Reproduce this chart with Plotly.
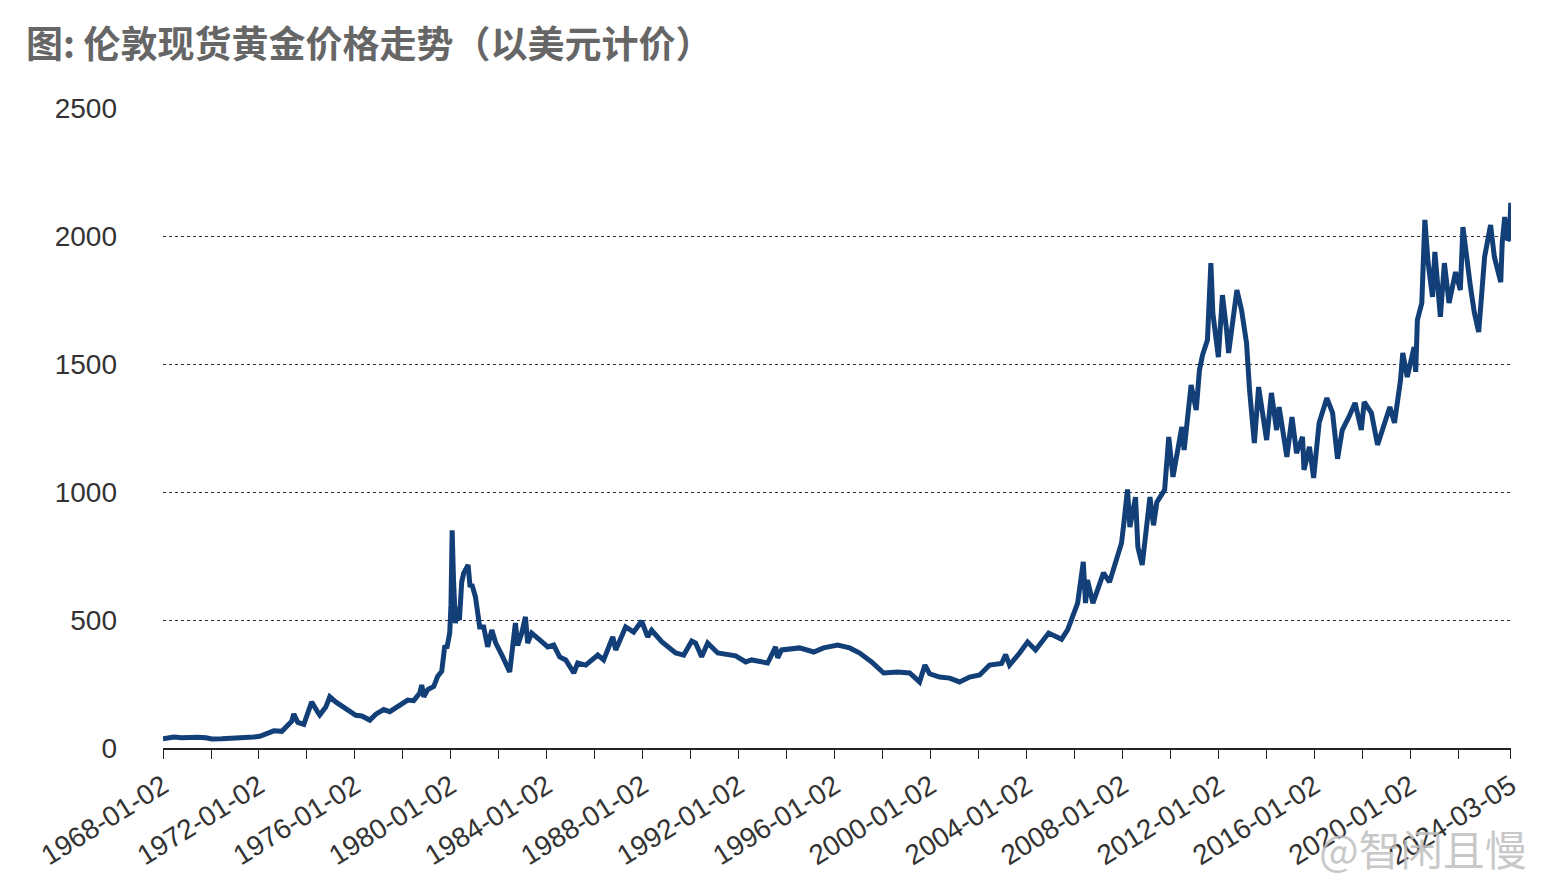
import plotly.graph_objects as go

# Data (London spot gold, USD)
dates = [
    "1968-01-02", "1968-03-15", "1968-06-15", "1968-10-15", "1969-03-15", "1969-06-15", "1969-10-15",
    "1970-01-15", "1970-06-15", "1970-11-15", "1971-03-15", "1971-07-15", "1971-10-15",
    "1972-01-15", "1972-05-15", "1972-08-15", "1972-12-15", "1973-03-15", "1973-05-15",
    "1973-06-15", "1973-08-15", "1973-11-15", "1974-01-15", "1974-03-15", "1974-06-15",
    "1974-07-15", "1974-10-15", "1974-12-15", "1975-03-15", "1975-06-15", "1975-09-15",
    "1976-01-15", "1976-04-15", "1976-08-15", "1976-11-15", "1977-03-15", "1977-06-15",
    "1977-10-15", "1978-01-15", "1978-03-15", "1978-06-15", "1978-09-15", "1978-10-15",
    "1978-11-15", "1979-01-15", "1979-04-15", "1979-06-15", "1979-08-15", "1979-10-01",
    "1979-11-01", "1979-12-15", "1980-01-03", "1980-01-21", "1980-01-28", "1980-02-10",
    "1980-03-10", "1980-04-10", "1980-05-10", "1980-06-15", "1980-07-15", "1980-09-20",
    "1980-10-20", "1980-11-15", "1981-01-10", "1981-02-10", "1981-03-15", "1981-05-15",
    "1981-07-15", "1981-09-15", "1981-11-15", "1982-03-01", "1982-06-15", "1982-09-10",
    "1982-10-15", "1982-12-15", "1983-02-10", "1983-03-15", "1983-05-15", "1983-09-15",
    "1984-01-15", "1984-04-15", "1984-07-15", "1984-10-15", "1985-02-15", "1985-04-15",
    "1985-08-15", "1986-02-15", "1986-05-15", "1986-10-01", "1986-11-15", "1987-04-15",
    "1987-08-15", "1987-12-15", "1988-03-15", "1988-05-15", "1988-10-15", "1989-05-15",
    "1989-09-15", "1990-01-15", "1990-03-15", "1990-06-15", "1990-09-15", "1991-02-15",
    "1991-07-15", "1991-11-15", "1992-04-15", "1992-07-15", "1993-03-15", "1993-07-15",
    "1993-08-15", "1993-10-15", "1994-07-15", "1995-02-15", "1995-07-15", "1996-02-15",
    "1996-08-15", "1997-01-15", "1997-07-15", "1998-01-15", "1998-08-15", "1999-02-15",
    "1999-07-15", "1999-10-05", "1999-12-15", "2000-05-15", "2000-10-15", "2001-03-15",
    "2001-08-15", "2002-01-15", "2002-06-15", "2002-12-15", "2003-02-15", "2003-04-15",
    "2003-09-15", "2004-01-15", "2004-05-15", "2004-12-01", "2005-06-15", "2005-09-15",
    "2005-12-10", "2006-02-15", "2006-05-12", "2006-06-15", "2006-07-15", "2006-10-05",
    "2007-01-15", "2007-03-15", "2007-06-15", "2007-10-01", "2007-12-15", "2008-01-20",
    "2008-03-15", "2008-04-20", "2008-07-15", "2008-08-20", "2008-10-25", "2008-12-15",
    "2009-02-20", "2009-04-15", "2009-06-05", "2009-10-01", "2009-12-03", "2010-02-05",
    "2010-06-20", "2010-07-25", "2010-11-08", "2011-01-25", "2011-03-15", "2011-05-01",
    "2011-07-15", "2011-09-05", "2011-10-05", "2011-12-28", "2012-02-28", "2012-05-01",
    "2012-06-01", "2012-10-05", "2012-12-15", "2013-03-01", "2013-04-16", "2013-06-28",
    "2013-09-01", "2014-01-01", "2014-03-15", "2014-06-01", "2014-07-10", "2014-11-05",
    "2015-01-22", "2015-04-01", "2015-07-01", "2015-07-24", "2015-10-15", "2015-12-17",
    "2016-03-10", "2016-07-06", "2016-10-01", "2016-12-15", "2017-02-25", "2017-06-06",
    "2017-09-08", "2017-12-12", "2018-01-25", "2018-05-15", "2018-08-16", "2019-02-20",
    "2019-05-01", "2019-08-01", "2019-09-04", "2019-11-12", "2020-02-24", "2020-03-19",
    "2020-04-14", "2020-06-20", "2020-08-06", "2020-09-25", "2020-11-30", "2021-01-05",
    "2021-03-30", "2021-05-30", "2021-08-09", "2021-11-16", "2022-01-28", "2022-03-08",
    "2022-04-18", "2022-07-01", "2022-08-30", "2022-11-03", "2022-12-20", "2023-02-01",
    "2023-05-03", "2023-06-30", "2023-10-05", "2023-10-27", "2023-12-04", "2024-01-20",
    "2024-02-14", "2024-03-05",
]
prices = [
    36, 40, 43, 40, 43, 42, 40,
    35, 36, 37, 39, 42, 43,
    46, 56, 67, 65, 85, 105,
    133, 100, 92, 140, 180, 140,
    129, 160, 200, 180, 165, 145,
    128, 125, 109, 132, 150, 142,
    162, 172, 187, 185, 215, 246,
    200, 228, 240, 280, 300, 400,
    390, 449, 560, 850, 700, 660,
    488, 551, 500, 650, 683, 715,
    629, 640, 590, 539, 473, 473,
    395, 461, 410, 356, 297, 488,
    400, 449, 512, 410, 449, 422,
    395, 402, 356, 344, 293, 332,
    324, 363, 344, 434, 383, 473,
    453, 496, 434, 460, 415, 371,
    363, 418, 410, 356, 410, 371,
    367, 360, 336, 344, 332, 395,
    352, 383, 391, 375, 391, 402,
    391, 371, 336, 293, 297, 293,
    258, 324, 290, 277, 273, 258,
    277, 285, 324, 330, 365, 324,
    371, 414, 383, 449, 425, 461,
    520, 566, 727, 566, 656, 566,
    640, 684, 648, 734, 801, 880,
    1010, 863, 980, 785, 715, 830,
    980, 870, 960, 1008, 1215, 1059,
    1254, 1164, 1418, 1320, 1476, 1535,
    1594, 1894, 1699, 1527, 1769, 1633,
    1543, 1789, 1711, 1582, 1398, 1191,
    1410, 1203, 1387, 1242, 1332, 1137,
    1293, 1152, 1215, 1086, 1176, 1055,
    1270, 1367, 1309, 1130, 1242, 1293,
    1348, 1242, 1352, 1309, 1184, 1332,
    1270, 1437, 1543, 1449, 1566, 1469,
    1672, 1738, 2063, 1894, 1762, 1938,
    1684, 1894, 1738, 1859, 1789, 2035,
    1938, 1801, 1699, 1625, 1777, 1918,
    2043, 1918, 1820, 1973, 2074, 1984,
    1990, 2130,
]

tick_dates = [
    "1968-01-02", "1970-01-02", "1972-01-02", "1974-01-02", "1976-01-02", "1978-01-02",
    "1980-01-02", "1982-01-02", "1984-01-02", "1986-01-02", "1988-01-02", "1990-01-02",
    "1992-01-02", "1994-01-02", "1996-01-02", "1998-01-02", "2000-01-02", "2002-01-02",
    "2004-01-02", "2006-01-02", "2008-01-02", "2010-01-02", "2012-01-02", "2014-01-02",
    "2016-01-02", "2018-01-02", "2020-01-02", "2022-01-02", "2024-03-05",
]
tick_labels = [d if i % 2 == 0 else "" for i, d in enumerate(tick_dates)]

y_ticks = [0, 500, 1000, 1500, 2000, 2500]

title_text = "图: 伦敦现货黄金价格走势（以美元计价）"
watermark = "@智闲且慢"

fig = go.Figure()
fig.add_trace(go.Scatter(
    x=dates, y=prices, mode="lines",
    line=dict(color="#123f78", width=5),
    showlegend=False,
))

fig.update_layout(
    width=1541, height=885,
    margin=dict(l=163, r=30, t=108, b=137),
    paper_bgcolor="white", plot_bgcolor="white",
    font=dict(family="Liberation Sans, Arial, sans-serif", color="#333333"),
    title=dict(
        text=title_text,
        font=dict(family="Noto Sans CJK SC", size=37, color="#666666", weight="bold"),
        xref="container", yref="container",
        x=26 / 1541, y=1 - 45 / 885, xanchor="left", yanchor="middle",
    ),
    xaxis=dict(
        type="date",
        range=["1968-01-02", "2024-03-09"],
        tickmode="array", tickvals=tick_dates, ticktext=tick_labels,
        tickangle=-32,
        tickfont=dict(size=28, color="#333333"),
        showgrid=False, zeroline=False,
        showline=True, linecolor="#222222", linewidth=1.5,
        ticks="outside", ticklen=9, tickwidth=1.2, tickcolor="#222222",
    ),
    yaxis=dict(
        range=[0, 2500],
        tickmode="array", tickvals=y_ticks,
        tickfont=dict(size=28, color="#333333"),
        showgrid=True, gridcolor="#333333", gridwidth=1, griddash="dot",
        zeroline=False, showline=False, ticks="",
        ticklabelstandoff=45,
    ),
    annotations=[dict(
        text=watermark, xref="paper", yref="paper",
        x=1.013, y=-0.156, xanchor="right", yanchor="middle",
        showarrow=False,
        font=dict(family="Noto Sans CJK SC", size=42, color="rgba(190,190,190,0.85)"),
    )],
)

fig.write_html("out.html")
